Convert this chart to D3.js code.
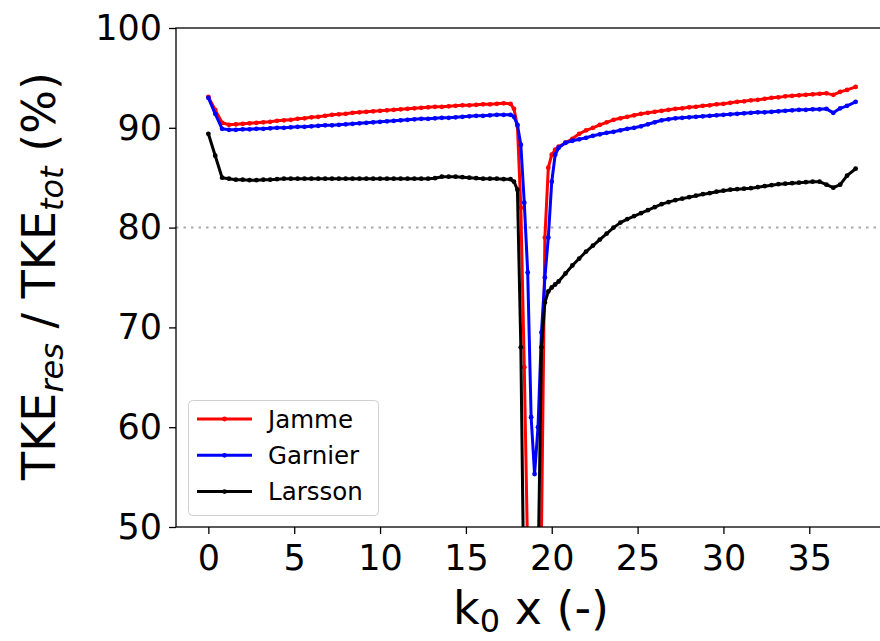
<!DOCTYPE html>
<html>
<head>
<meta charset="utf-8">
<script src="https://cdn.jsdelivr.net/npm/d3@7"></script>
<style>
  html, body { margin: 0; padding: 0; background: #fff; }
  svg { display: block; font-family: "DejaVu Sans", sans-serif; }
</style>
</head>
<body>
<svg id="chart" width="880" height="641"></svg>
<script>
// ---------- data ----------
const xValues = [
  0, 0.4, 0.8, 1.2, 1.6, 2.0, 2.4, 2.8, 3.2, 3.6, 4.0, 4.4, 4.8, 5.2, 5.6, 6.0, 6.4, 6.8, 7.2, 7.6,
  8.0, 8.4, 8.8, 9.2, 9.6, 10.0, 10.4, 10.8, 11.2, 11.6, 12.0, 12.4, 12.8, 13.2, 13.6, 14.0, 14.4, 14.8,
  15.2, 15.6, 16.0, 16.4, 16.8, 17.2, 17.6,
  17.8, 18.0, 18.2, 18.4, 18.6, 18.8, 19.0, 19.2, 19.4, 19.6, 19.8, 20.0, 20.2, 20.4,
  20.8, 21.2, 21.6, 22.0, 22.4, 22.8, 23.2, 23.6, 24.0, 24.4, 24.8, 25.2, 25.6, 26.0, 26.4, 26.8,
  27.2, 27.6, 28.0, 28.4, 28.8, 29.2, 29.6, 30.0, 30.4, 30.8, 31.2, 31.6, 32.0, 32.4, 32.8, 33.2,
  33.6, 34.0, 34.4, 34.8, 35.2, 35.6, 36.0, 36.4, 36.8, 37.2, 37.7
];
const jamme = [
  93.1, 91.8, 90.5, 90.3, 90.35, 90.4, 90.45, 90.5, 90.55, 90.6, 90.7, 90.75, 90.8, 90.9, 90.95, 91.05, 91.1, 91.2, 91.3, 91.35,
  91.4, 91.5, 91.55, 91.6, 91.65, 91.7, 91.75, 91.8, 91.85, 91.9, 91.95, 92.0, 92.05, 92.1, 92.1, 92.15, 92.2, 92.25,
  92.25, 92.3, 92.35, 92.35, 92.4, 92.45, 92.4,
  91.9, 90.2, 82.0, 66.0, 47.0, 36.0, 30.0, 35.0, 49.0, 79.0, 86.0, 87.3, 87.8, 88.1,
  88.5, 88.9, 89.4, 89.75, 90.0, 90.3, 90.55, 90.8, 90.95, 91.1, 91.25, 91.4, 91.5, 91.6, 91.7, 91.8,
  91.9, 91.95, 92.05, 92.1, 92.2, 92.25, 92.35, 92.4, 92.5, 92.6, 92.65, 92.75, 92.8, 92.9, 93.0, 93.05,
  93.15, 93.2, 93.25, 93.3, 93.35, 93.4, 93.45, 93.3, 93.6, 93.8, 94.1
];
const garnier = [
  93.0, 91.4, 89.9, 89.8, 89.8, 89.85, 89.85, 89.9, 89.9, 89.95, 90.0, 90.0, 90.05, 90.1, 90.1, 90.15, 90.2, 90.25, 90.25, 90.3,
  90.35, 90.4, 90.45, 90.5, 90.55, 90.6, 90.65, 90.7, 90.75, 90.8, 90.85, 90.9, 90.9, 90.95, 91.0, 91.0, 91.05, 91.1,
  91.15, 91.2, 91.2, 91.25, 91.3, 91.3, 91.3,
  91.1, 90.3, 88.3, 82.5, 75.5, 61.0, 55.3, 60.0, 69.5, 75.0, 79.0, 84.6, 87.3, 88.0,
  88.5, 88.7, 88.85, 89.0, 89.2, 89.35, 89.5, 89.6, 89.75, 89.9, 90.0, 90.15, 90.35, 90.55, 90.75, 90.85,
  90.95, 91.0, 91.05, 91.1, 91.15, 91.2, 91.25, 91.3, 91.35, 91.4, 91.45, 91.5, 91.55, 91.55, 91.6, 91.65,
  91.7, 91.75, 91.8, 91.8, 91.85, 91.85, 91.9, 91.5, 91.95, 92.2, 92.6
];
const larsson = [
  89.4, 87.2, 85.0, 84.9, 84.8, 84.8, 84.75, 84.75, 84.8, 84.8, 84.85, 84.9, 84.9, 84.9, 84.9, 84.9, 84.9, 84.9, 84.9, 84.9,
  84.9, 84.9, 84.9, 84.9, 84.9, 84.9, 84.9, 84.9, 84.9, 84.9, 84.9, 84.9, 84.9, 84.95, 85.1, 85.1, 85.1, 85.05,
  85.0, 84.95, 84.9, 84.9, 84.9, 84.85, 84.85,
  84.6, 83.8, 68.0, 40.0, 25.0, 20.0, 22.0, 45.0, 68.0, 72.5, 73.6, 74.0, 74.3, 74.6,
  75.4, 76.2, 76.9, 77.6, 78.2, 78.8, 79.4, 80.0, 80.5, 80.85, 81.15, 81.45, 81.75, 82.05, 82.35, 82.55,
  82.75, 82.9, 83.05, 83.2, 83.35, 83.45, 83.6, 83.7, 83.8, 83.85, 83.9, 83.95, 84.05, 84.15, 84.25, 84.35,
  84.4, 84.45, 84.5, 84.55, 84.6, 84.6, 84.3, 84.0, 84.3, 85.2, 85.9
];
const seriesNames = ["Jamme", "Garnier", "Larsson"];
const seriesColors = ["#ff0000", "#0000ff", "#000000"];
const xTicks = [0, 5, 10, 15, 20, 25, 30, 35];
const yTicks = [50, 60, 70, 80, 90, 100];
const refLine = 80;

// ---------- layout ----------
const svg = d3.select("#chart");
const W = 880, H = 641;
const mLeft = 176, mTop = 28, mBottom = 527, mRight = 888;

svg.append("rect").attr("width", W).attr("height", H).attr("fill", "#fff");

const x = d3.scaleLinear().domain([-1.885, 39.585]).range([mLeft, mRight]);
const y = d3.scaleLinear().domain([50, 100]).range([mBottom, mTop]);

svg.append("clipPath").attr("id", "clip")
  .append("rect").attr("x", mLeft).attr("y", mTop).attr("width", mRight - mLeft).attr("height", mBottom - mTop);

const plot = svg.append("g").attr("clip-path", "url(#clip)");

plot.append("line")
  .attr("x1", mLeft).attr("x2", mRight)
  .attr("y1", y(refLine)).attr("y2", y(refLine))
  .attr("stroke", "#aaaaaa").attr("stroke-width", 2)
  .attr("stroke-dasharray", "2.5,5");

const allSeries = [jamme, garnier, larsson];
const line = d3.line().x(d => x(d[0])).y(d => y(d[1]));

allSeries.forEach((vals, i) => {
  const pts = xValues.map((xv, j) => [xv, vals[j]]);
  plot.append("path").datum(pts)
    .attr("fill", "none").attr("stroke", seriesColors[i])
    .attr("stroke-width", 3).attr("stroke-linejoin", "round")
    .attr("d", line);
  plot.append("g").selectAll("circle").data(pts).join("circle")
    .attr("cx", d => x(d[0])).attr("cy", d => y(d[1]))
    .attr("r", 2.4).attr("fill", seriesColors[i]);
});

// ---------- axes ----------
const xAxis = d3.axisBottom(x).tickValues(xTicks).tickSize(7).tickPadding(11).tickFormat(d3.format("d"));
const yAxis = d3.axisLeft(y).tickValues(yTicks).tickSize(7).tickPadding(7).tickFormat(d3.format("d"));

const gx = svg.append("g").attr("transform", `translate(0,${mBottom})`).call(xAxis);
const gy = svg.append("g").attr("transform", `translate(${mLeft},0)`).call(yAxis);
[gx, gy].forEach(g => {
  g.select(".domain").remove();
  g.selectAll(".tick line").attr("stroke", "#000").attr("stroke-width", 1.3);
  g.selectAll(".tick text").attr("fill", "#000").attr("font-size", 35)
    .attr("font-family", "DejaVu Sans, sans-serif");
});

svg.append("rect").attr("x", mLeft).attr("y", mTop)
  .attr("width", mRight - mLeft).attr("height", mBottom - mTop)
  .attr("fill", "none").attr("stroke", "#000").attr("stroke-width", 1.3);

// axis labels
const xl = svg.append("text").attr("x", 531).attr("y", 624).attr("text-anchor", "middle")
  .attr("font-size", 46).attr("fill", "#000");
xl.append("tspan").text("k");
xl.append("tspan").attr("font-size", 32).attr("dy", 8).text("0");
xl.append("tspan").attr("dy", -8).text(" x (-)");

const yl = svg.append("text").attr("transform", `translate(55,276) rotate(-90)`)
  .attr("text-anchor", "middle").attr("font-size", 46).attr("fill", "#000");
yl.append("tspan").text("TKE");
yl.append("tspan").attr("font-size", 32).attr("font-style", "italic").attr("dy", 8).text("res");
yl.append("tspan").attr("dy", -8).text(" / TKE");
yl.append("tspan").attr("font-size", 32).attr("font-style", "italic").attr("dy", 8).text("tot");
yl.append("tspan").attr("dy", -8).text(" (%)");

// ---------- legend ----------
const lg = svg.append("g");
lg.append("rect").attr("x", 188.5).attr("y", 400.5).attr("width", 190).attr("height", 115)
  .attr("rx", 4).attr("fill", "#fff").attr("fill-opacity", 0.8)
  .attr("stroke", "#d0d0d0").attr("stroke-width", 1);
seriesNames.forEach((name, i) => {
  const cy = 419 + i * 36.3;
  lg.append("line").attr("x1", 197).attr("x2", 252).attr("y1", cy).attr("y2", cy)
    .attr("stroke", seriesColors[i]).attr("stroke-width", 3);
  lg.append("circle").attr("cx", 224.5).attr("cy", cy).attr("r", 2.4).attr("fill", seriesColors[i]);
  lg.append("text").attr("x", 268).attr("y", cy + 8.5).attr("font-size", 24.5).attr("fill", "#000").text(name);
});
</script>
</body>
</html>
